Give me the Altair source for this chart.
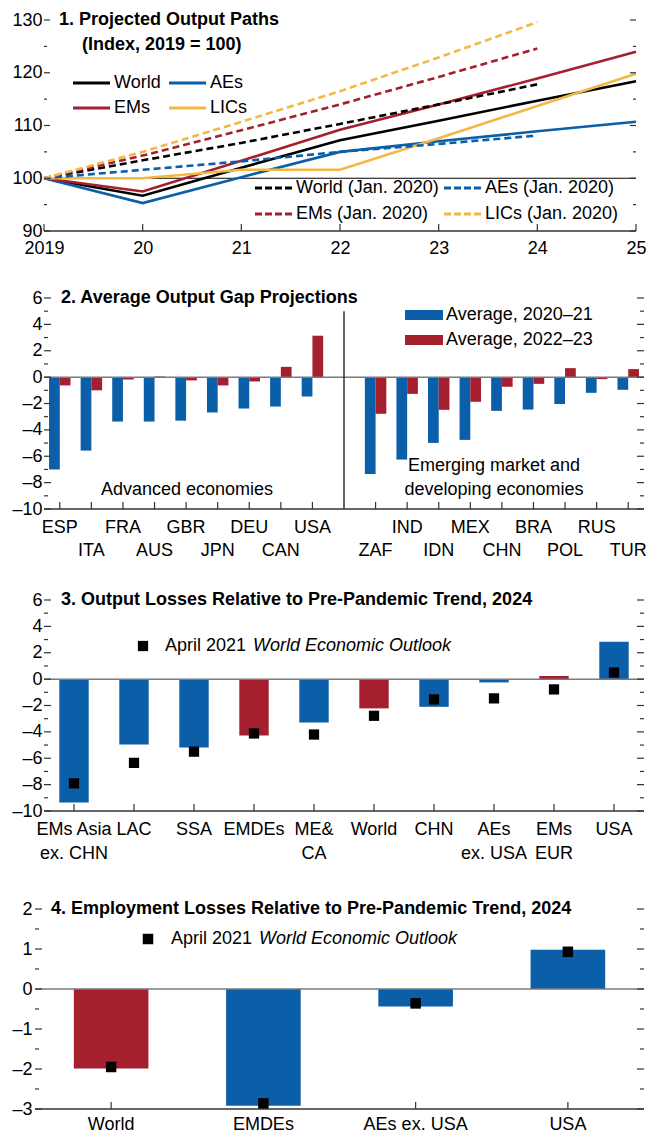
import altair as alt
import pandas as pd

FONT = "Liberation Sans"
BLUE = "#0b5ea8"
RED = "#a61f2f"
YELLOW = "#f3b843"
BLACK = "#000000"
AXIS = "#333333"
ZERO = "#7a7a7a"

# ---------------- Panel 1 data ----------------
years = [2019, 2020, 2021, 2022, 2023, 2024, 2025]
world = [100, 96.7, 102.0, 107.2, 110.9, 114.7, 118.4]
aes = [100, 95.3, 100.2, 105.0, 107.0, 108.9, 110.7]
ems = [100, 97.5, 103.3, 109.2, 114.0, 118.9, 124.0]
lics = [100, 100.0, 101.6, 101.6, 107.6, 113.7, 119.8]
years_jan = [2019, 2020, 2021, 2022, 2023, 2024]
world_jan = [100, 103.4, 106.7, 110.3, 114.0, 117.8]
aes_jan = [100, 101.6, 103.2, 105.0, 106.5, 108.1]
ems_jan = [100, 104.3, 109.1, 114.0, 119.2, 124.6]
lics_jan = [100, 105.0, 110.7, 116.5, 122.9, 129.6]
series1 = ["World", "AEs", "EMs", "LICs"]
series1_jan = ["World (Jan. 2020)", "AEs (Jan. 2020)", "EMs (Jan. 2020)", "LICs (Jan. 2020)"]
colors1 = [BLACK, BLUE, RED, YELLOW]

# ---------------- Panel 2 data ----------------
ae_countries = ["ESP", "ITA", "FRA", "AUS", "GBR", "JPN", "DEU", "CAN", "USA"]
ae_2021 = [-7.0, -5.57, -3.37, -3.37, -3.3, -2.68, -2.38, -2.23, -1.47]
ae_2223 = [-0.63, -1.0, -0.18, 0.05, -0.25, -0.63, -0.33, 0.78, 3.14]
em_countries = ["ZAF", "IND", "IDN", "MEX", "CHN", "BRA", "POL", "RUS", "TUR"]
em_2021 = [-7.34, -6.25, -4.99, -4.76, -2.56, -2.46, -2.03, -1.19, -0.96]
em_2223 = [-2.78, -1.27, -2.48, -1.87, -0.73, -0.51, 0.68, -0.15, 0.61]
series2 = ["Average, 2020\u201321", "Average, 2022\u201323"]
colors2 = [BLUE, RED]

# ---------------- Panel 3 data ----------------
cats3 = ["EMs Asia\nex. CHN", "LAC", "SSA", "EMDEs", "ME&\nCA", "World", "CHN",
         "AEs\nex. USA", "EMs\nEUR", "USA"]
vals3 = [-9.35, -4.95, -5.18, -4.27, -3.28, -2.22, -2.1, -0.25, 0.23, 2.83]
weo3 = [-7.9, -6.35, -5.5, -4.12, -4.2, -2.78, -1.54, -1.46, -0.78, 0.5]
red3 = ["EMDEs", "World", "EMs\nEUR"]

# ---------------- Panel 4 data ----------------
cats4 = ["World", "EMDEs", "AEs ex. USA", "USA"]
vals4 = [-1.99, -2.92, -0.44, 0.98]
weo4 = [-1.95, -2.86, -0.36, 0.93]
red4 = ["World"]

W1, H1 = 592, 211
W2, H2 = 600, 211
W3, H3 = 600, 211
W4, H4 = 600, 200


def one():
    return pd.DataFrame({"k": [0]})


def text_layer(txt, x, y, bold=False, italic=False, align="left", size=18):
    return alt.Chart(one()).mark_text(
        text=txt, align=align, baseline="middle", font=FONT, fontSize=size,
        fontWeight="bold" if bold else "normal",
        fontStyle="italic" if italic else "normal", color="black"
    ).encode(x=alt.value(x), y=alt.value(y))


def ytick_layers(Y, majors, minors, W, left0, maj, mino, color=AXIS):
    layers = []
    for vals, ln in ((majors, maj), (minors, mino)):
        df = pd.DataFrame({"value": vals})
        layers.append(alt.Chart(df).mark_rule(color=color, strokeWidth=1.2).encode(
            y=Y, x=alt.value(left0), x2=alt.value(left0 + ln)))
        layers.append(alt.Chart(df).mark_rule(color=color, strokeWidth=1.2).encode(
            y=Y, x=alt.value(W - ln), x2=alt.value(W)))
    return layers


def hrule(Y, v, x0, x1, color, width):
    return alt.Chart(pd.DataFrame({"value": [v]})).mark_rule(
        color=color, strokeWidth=width).encode(y=Y, x=alt.value(x0), x2=alt.value(x1))


def legend_line(label, color, x, y, dash=None):
    kw = dict(color=color, strokeWidth=3)
    if dash:
        kw["strokeDash"] = dash
    seg = alt.Chart(one()).mark_rule(**kw).encode(
        x=alt.value(x), x2=alt.value(x + 37), y=alt.value(y))
    return [seg, text_layer(label, x + 41, y)]


def legend_box(label, color, x, y):
    box = alt.Chart(one()).mark_rect(color=color).encode(
        x=alt.value(x), x2=alt.value(x + 38), y=alt.value(y - 5), y2=alt.value(y + 5))
    return [box, text_layer(label, x + 41, y)]


# ================= Panel 1 =================
rows = []
for s, vals in zip(series1, [world, aes, ems, lics]):
    for yr, v in zip(years, vals):
        rows.append({"year": yr, "value": v, "series": s})
df1 = pd.DataFrame(rows)
rows = []
for s, vals in zip(series1_jan, [world_jan, aes_jan, ems_jan, lics_jan]):
    for yr, v in zip(years_jan, vals):
        rows.append({"year": yr, "value": v, "series": s})
df1j = pd.DataFrame(rows)

X1 = alt.X("year:Q", scale=alt.Scale(domain=[2019, 2025], nice=False),
           axis=alt.Axis(values=years, title=None, grid=False, domain=False, ticks=False,
                         tickSize=0, labelPadding=8, labelFlush=False, labelOverlap=False,
                         labelExpr="datum.value == 2019 ? '2019' : slice(toString(datum.value), 2)"))
Y1 = alt.Y("value:Q", scale=alt.Scale(domain=[90, 130], nice=False),
           axis=alt.Axis(values=[90, 100, 110, 120, 130], title=None, grid=False,
                         domain=False, ticks=False, tickSize=0, labelPadding=2))

ref100 = hrule(Y1, 100, 0, W1, BLACK, 1)
solid = alt.Chart(df1).mark_line(strokeWidth=2.6).encode(
    x=X1, y=Y1,
    color=alt.Color("series:N", scale=alt.Scale(domain=series1, range=colors1), legend=None))
dashed = alt.Chart(df1j).mark_line(strokeWidth=2.6, strokeDash=[7, 4]).encode(
    x=X1, y=Y1,
    color=alt.Color("series:N", scale=alt.Scale(domain=series1_jan, range=colors1), legend=None))
base1 = hrule(Y1, 90, 0, W1, AXIS, 1.5)
xt1 = alt.Chart(pd.DataFrame({"year": years})).mark_rule(color=AXIS, strokeWidth=1.2).encode(
    x=X1, y=alt.value(H1), y2=alt.value(H1 - 7))

leg1 = []
pos_solid = [(29, 63), (125, 63), (29, 88), (125, 88)]
pos_jan = [(211, 168), (400, 168), (211, 194), (400, 194)]
for s, c, (lx, ly) in zip(series1, colors1, pos_solid):
    leg1 += legend_line(s, c, lx, ly)
for s, c, (lx, ly) in zip(series1_jan, colors1, pos_jan):
    leg1 += legend_line(s, c, lx, ly, dash=[7, 3])

p1 = alt.layer(
    ref100, solid, dashed, base1, xt1,
    *ytick_layers(Y1, [90, 100, 110, 120, 130], [95, 105, 115, 125], W1, 0, 6, 3),
    *leg1,
    text_layer("1. Projected Output Paths", 15, 0, bold=True),
    text_layer("(Index, 2019 = 100)", 38, 25, bold=True),
).resolve_scale(color="independent").properties(width=W1, height=H1)

# ================= Panel 2 =================
domain2 = ae_countries + ["gap"] + em_countries
bottom2 = ae_countries[1::2] + em_countries[0::2]
rows = []
for c, a, b in zip(ae_countries + em_countries, ae_2021 + em_2021, ae_2223 + em_2223):
    rows.append({"cat": c, "series": series2[0], "value": a})
    rows.append({"cat": c, "series": series2[1], "value": b})
df2 = pd.DataFrame(rows)

X2 = alt.X("cat:N", sort=domain2,
           scale=alt.Scale(domain=domain2, paddingInner=0.32, paddingOuter=0.16),
           axis=alt.Axis(values=ae_countries + em_countries, title=None, grid=False,
                         domain=False, ticks=False, tickSize=0, labelAngle=0, labelPadding=9,
                         labelOverlap=False, labelLineHeight=23, labelBaseline="top",
                         labelExpr="indexof(" + str(bottom2) + ", datum.value) >= 0 ? ['', datum.value] : datum.value"))
Y2 = alt.Y("value:Q", scale=alt.Scale(domain=[-10, 6], nice=False),
           axis=alt.Axis(values=list(range(-10, 7, 2)), title=None, grid=False, domain=False,
                         ticks=False, tickSize=0, labelPadding=2,
                         labelExpr="datum.value < 0 ? '\u2013' + abs(datum.value) : datum.label"))

bars2 = alt.Chart(df2).mark_bar().encode(
    x=X2, xOffset=alt.XOffset("series:N", scale=alt.Scale(domain=series2)), y=Y2,
    color=alt.Color("series:N", scale=alt.Scale(domain=series2, range=colors2), legend=None))
zero2 = hrule(Y2, 0, 0, W2, ZERO, 1.5)
base2 = hrule(Y2, -10, 0, W2, AXIS, 1.5)
sep2 = alt.Chart(pd.DataFrame({"cat": ["gap"], "value": [5], "value2": [-10]})).mark_rule(
    color=AXIS, strokeWidth=1.5).encode(x=X2, y=Y2, y2="value2:Q")
xt2 = alt.Chart(pd.DataFrame({"cat": ae_countries + em_countries})).mark_rule(
    color=AXIS, strokeWidth=1.2).encode(x=X2, y=alt.value(H2), y2=alt.value(H2 - 7))
leg2 = []
for s, c, ly in zip(series2, colors2, [17, 42]):
    leg2 += legend_box(s, c, 361, ly)
p2 = alt.layer(
    bars2, zero2, base2, sep2, xt2,
    *ytick_layers(Y2, list(range(-10, 7, 2)), list(range(-9, 6, 2)), W2, 0, 7, 4),
    *leg2,
    text_layer("2. Average Output Gap Projections", 17, 0, bold=True),
    text_layer("Advanced economies", 143, 192, align="center"),
    text_layer("Emerging market and", 450, 168, align="center"),
    text_layer("developing economies", 450, 192, align="center"),
).properties(width=W2, height=H2)

# ================= Panel 3 =================
df3 = pd.DataFrame({"cat": cats3, "value": vals3})
df3w = pd.DataFrame({"cat": cats3, "value": weo3})
X3 = alt.X("cat:N", sort=cats3,
           scale=alt.Scale(domain=cats3, paddingInner=0.51, paddingOuter=0.255),
           axis=alt.Axis(title=None, grid=False, domain=False, ticks=False, tickSize=0,
                         labelAngle=0, labelPadding=9, labelOverlap=False, labelLineHeight=24,
                         labelBaseline="top", labelExpr="split(datum.value, '\\n')"))
Y3 = alt.Y("value:Q", scale=alt.Scale(domain=[-10, 6], nice=False),
           axis=alt.Axis(values=list(range(-10, 7, 2)), title=None, grid=False, domain=False,
                         ticks=False, tickSize=0, labelPadding=2,
                         labelExpr="datum.value < 0 ? '\u2013' + abs(datum.value) : datum.label"))
bars3 = alt.Chart(df3).mark_bar().encode(
    x=X3, y=Y3,
    color=alt.condition(alt.FieldOneOfPredicate(field="cat", oneOf=red3),
                        alt.value(RED), alt.value(BLUE)))
pts3 = alt.Chart(df3w).mark_square(size=105, color="black", opacity=1).encode(x=X3, y=Y3)
zero3 = hrule(Y3, 0, 0, W3, ZERO, 1.5)
base3 = hrule(Y3, -10, 0, W3, AXIS, 1.5)
xt3 = alt.Chart(pd.DataFrame({"cat": cats3})).mark_rule(color=AXIS, strokeWidth=1.2).encode(
    x=X3, y=alt.value(H3), y2=alt.value(H3 - 7))
spacer3 = alt.Chart(one()).mark_rule(strokeOpacity=0).encode(
    x=alt.value(0), x2=alt.value(10), y=alt.value(H3 + 57))
leg3 = alt.Chart(one()).mark_square(size=105, color="black", opacity=1).encode(
    x=alt.value(99), y=alt.value(46))
p3 = alt.layer(
    bars3, zero3, base3, xt3, pts3, spacer3, leg3,
    *ytick_layers(Y3, list(range(-10, 7, 2)), list(range(-9, 6, 2)), W3, 0, 7, 4),
    text_layer("3. Output Losses Relative to Pre-Pandemic Trend, 2024", 17, 0, bold=True),
    text_layer("April 2021", 121, 46),
    text_layer("World Economic Outlook", 209, 46, italic=True),
).properties(width=W3, height=H3)

# ================= Panel 4 =================
df4 = pd.DataFrame({"cat": cats4, "value": vals4})
df4w = pd.DataFrame({"cat": cats4, "value": weo4})
X4 = alt.X("cat:N", sort=cats4,
           scale=alt.Scale(domain=cats4, range=[-9, W4], paddingInner=0.51, paddingOuter=0.255),
           axis=alt.Axis(title=None, grid=False, domain=False, ticks=False, tickSize=0,
                         labelAngle=0, labelPadding=6, labelOverlap=False, labelBaseline="top"))
Y4 = alt.Y("value:Q", scale=alt.Scale(domain=[-3, 2], nice=False),
           axis=alt.Axis(values=[-3, -2, -1, 0, 1, 2], title=None, grid=False, domain=False,
                         ticks=False, tickSize=0, labelPadding=12,
                         labelExpr="datum.value < 0 ? '\u2013' + abs(datum.value) : datum.label"))
bars4 = alt.Chart(df4).mark_bar().encode(
    x=X4, y=Y4,
    color=alt.condition(alt.FieldOneOfPredicate(field="cat", oneOf=red4),
                        alt.value(RED), alt.value(BLUE)))
pts4 = alt.Chart(df4w).mark_square(size=110, color="black", opacity=1).encode(x=X4, y=Y4)
zero4 = hrule(Y4, 0, -9, W4, ZERO, 1.5)
base4 = hrule(Y4, -3, -9, W4, AXIS, 1.5)
xt4 = alt.Chart(pd.DataFrame({"cat": cats4})).mark_rule(color=AXIS, strokeWidth=1.2).encode(
    x=X4, y=alt.value(H4), y2=alt.value(H4 - 7))
leg4 = alt.Chart(one()).mark_square(size=110, color="black", opacity=1).encode(
    x=alt.value(104), y=alt.value(30))
p4 = alt.layer(
    bars4, zero4, base4, xt4, pts4, leg4,
    *ytick_layers(Y4, [-3, -2, -1, 0, 1, 2], [-2.5, -1.5, -0.5, 0.5, 1.5], W4, -9, 7, 4),
    text_layer("4. Employment Losses Relative to Pre-Pandemic Trend, 2024", 7, 0, bold=True),
    text_layer("April 2021", 127, 30),
    text_layer("World Economic Outlook", 215, 30, italic=True),
).properties(width=W4, height=H4)

chart = alt.vconcat(p1, p2, p3, p4, spacing=32).properties(
    padding={"left": 3, "top": 3, "right": 0, "bottom": 0}, background="white"
).configure_view(stroke=None).configure_axis(
    labelFont=FONT, labelFontSize=18, labelColor="black"
)

chart.save("out.html", embed_options={"renderer": "svg", "actions": False})
